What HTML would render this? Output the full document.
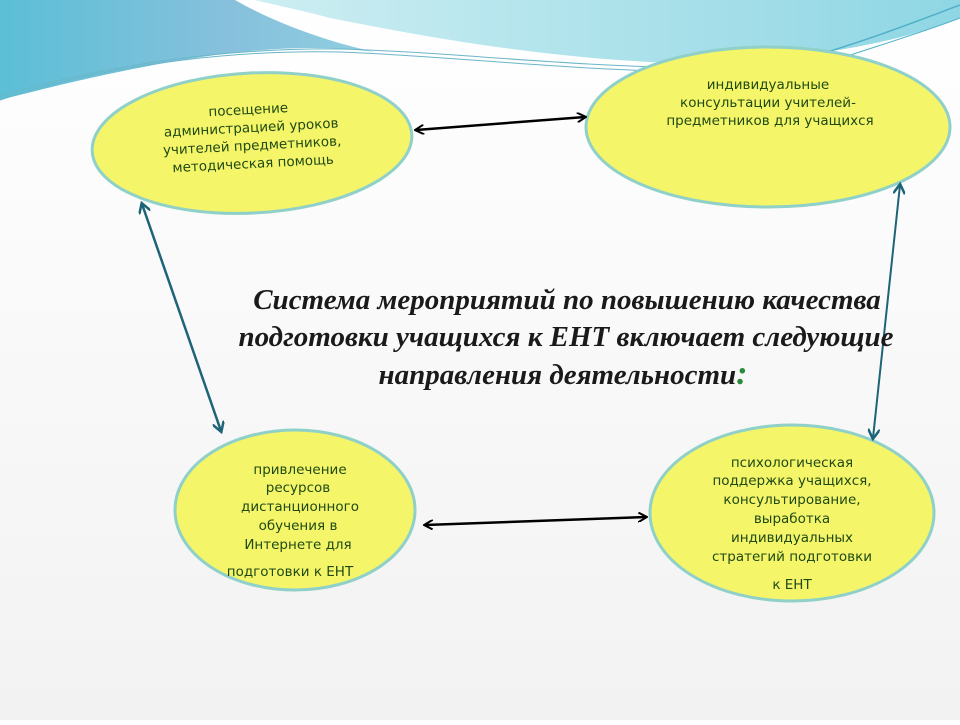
<!DOCTYPE html>
<html><head><meta charset="utf-8"><style>
html,body{margin:0;padding:0;}
body{width:960px;height:720px;overflow:hidden;background:#fff;}
</style></head><body>
<svg width="960" height="720" viewBox="0 0 960 720" xmlns="http://www.w3.org/2000/svg">
<defs>
<linearGradient id="bg" x1="0" y1="0" x2="0" y2="1"><stop offset="0" stop-color="#ffffff"/><stop offset="1" stop-color="#f2f2f2"/></linearGradient>
<linearGradient id="bl" x1="0" y1="0" x2="1" y2="0"><stop offset="0" stop-color="#5bbfd6"/><stop offset="0.6" stop-color="#86c0dc"/><stop offset="1" stop-color="#8fcfe0"/></linearGradient>
<linearGradient id="cy" x1="0" y1="0" x2="1" y2="0"><stop offset="0" stop-color="#cdeef2"/><stop offset="1" stop-color="#8fd6e4"/></linearGradient>
<marker id="ak" markerWidth="10" markerHeight="10" refX="8" refY="5" orient="auto-start-reverse" markerUnits="userSpaceOnUse"><path d="M0,0 L9,5 L0,10" fill="none" stroke="#000" stroke-width="2"/></marker>
<marker id="at" markerWidth="12" markerHeight="12" refX="9" refY="6" orient="auto-start-reverse" markerUnits="userSpaceOnUse"><path d="M0,0 L10,6 L0,12" fill="none" stroke="#1e6478" stroke-width="2.5"/></marker>
</defs>
<rect width="960" height="720" fill="url(#bg)"/>
<path d="M255,0 H960 V18 C880,50 760,66 650,62 C540,56 440,40 330,18 C300,10 275,5 255,0 Z" fill="url(#cy)"/>
<path d="M0,0 H235 C270,20 320,40 375,52 C300,42 200,48 0,100 Z" fill="url(#bl)"/>
<path d="M0,100 C120,60 250,50 340,52 C450,56 560,70 700,72" fill="none" stroke="#6ab6c8" stroke-width="1"/>
<path d="M0,96 C130,58 250,48 340,49 C450,52 560,66 700,68" fill="none" stroke="#6ab6c8" stroke-width="1"/>
<path d="M800,60 C870,40 920,20 960,5" fill="none" stroke="#4fb0c8" stroke-width="1.5"/>
<path d="M820,65 C880,45 930,30 960,18" fill="none" stroke="#4fb0c8" stroke-width="1"/>
<g stroke="#8fd0c8" stroke-width="3" fill="#f5f56a">
<ellipse cx="252" cy="143" rx="160" ry="70" transform="rotate(-3 252 143)"/>
<ellipse cx="768" cy="127" rx="182" ry="80"/>
<ellipse cx="295" cy="510" rx="120" ry="80"/>
<ellipse cx="792" cy="513" rx="142" ry="88"/>
</g>
<line x1="416" y1="130" x2="585" y2="117" stroke="#000" stroke-width="2.5" marker-start="url(#ak)" marker-end="url(#ak)"/>
<line x1="425" y1="525" x2="646" y2="517" stroke="#000" stroke-width="2.5" marker-start="url(#ak)" marker-end="url(#ak)"/>
<line x1="142" y1="204" x2="221" y2="431" stroke="#1e6478" stroke-width="2.5" marker-start="url(#at)" marker-end="url(#at)"/>
<line x1="900" y1="185" x2="873" y2="438" stroke="#1e6478" stroke-width="2" marker-start="url(#at)" marker-end="url(#at)"/>
<g font-family="'Comic Sans MS','DejaVu Sans','Liberation Sans',sans-serif" font-size="13.5" fill="#1f4a14" text-anchor="middle">
<g transform="rotate(-3 252 143)">
<text x="250" y="114">посещение</text>
<text x="252" y="132">администрацией уроков</text>
<text x="252" y="150">учителей предметников,</text>
<text x="252" y="168">методическая помощь</text>
</g>
<text x="768" y="89">индивидуальные</text>
<text x="768" y="107">консультации учителей-</text>
<text x="770" y="125">предметников для учащихся</text>
<text x="300" y="474">привлечение</text>
<text x="298" y="492">ресурсов</text>
<text x="300" y="511">дистанционного</text>
<text x="298" y="530">обучения в</text>
<text x="298" y="549">Интернете для</text>
<text x="290" y="576">подготовки к ЕНТ</text>
<text x="792" y="467">психологическая</text>
<text x="792" y="485">поддержка учащихся,</text>
<text x="792" y="504">консультирование,</text>
<text x="792" y="523">выработка</text>
<text x="792" y="542">индивидуальных</text>
<text x="792" y="561">стратегий подготовки</text>
<text x="792" y="589">к ЕНТ</text>
</g>
<g font-family="'Liberation Serif',serif" font-style="italic" font-weight="bold" font-size="29" fill="#1a1a1a" text-anchor="middle">
<text x="567" y="309">Система мероприятий по повышению качества</text>
<text x="566" y="346">подготовки учащихся к ЕНТ включает следующие</text>
<text x="563" y="384">направления деятельности<tspan fill="#2a8a3a" font-size="34">:</tspan></text>
</g>
</svg>
</body></html>
